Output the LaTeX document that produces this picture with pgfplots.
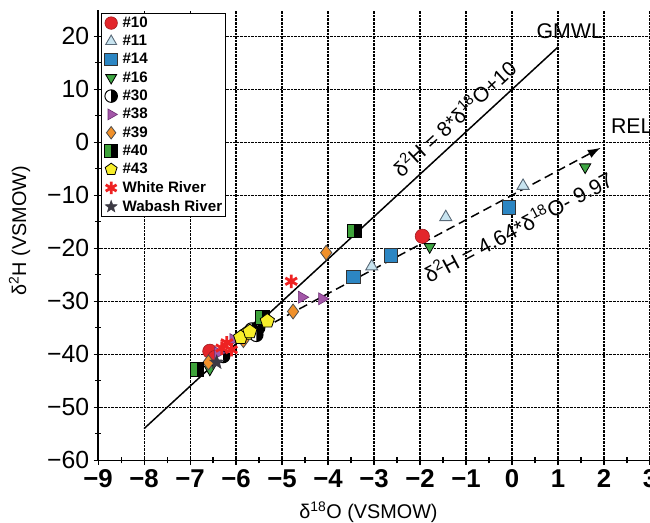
\documentclass[border=0pt]{standalone}
\usepackage{fontspec}
\setmainfont{Liberation Sans}
\usepackage{pgfplots}
\pgfplotsset{compat=1.18}
\usetikzlibrary{arrows.meta,calc,plotmarks}

\definecolor{c10}{HTML}{E3262B}
\definecolor{c11f}{HTML}{C8E4F0}
\definecolor{c11d}{HTML}{5A6A78}
\definecolor{c14}{HTML}{2C86C3}
\definecolor{c16}{HTML}{3DA642}
\definecolor{c38}{HTML}{A357A8}
\definecolor{c38d}{HTML}{6C2E72}
\definecolor{c39}{HTML}{F0902A}
\definecolor{c40}{HTML}{3EA23A}
\definecolor{c43}{HTML}{F7EE2A}
\definecolor{riv}{HTML}{EE2222}
\definecolor{wab}{HTML}{3C3A44}

% half white / half black circle (#30)
\pgfdeclareplotmark{halfcirc}{%
  \begin{pgfscope}
  \pgfpathcircle{\pgfpointorigin}{\pgfplotmarksize}
  \pgfsetfillcolor{white}\pgfusepathqfillstroke
  \pgfpathmoveto{\pgfqpoint{0pt}{\pgfplotmarksize}}
  \pgfpatharc{90}{-90}{\pgfplotmarksize}
  \pgfpathclose
  \pgfsetfillcolor{black}\pgfusepathqfill
  \end{pgfscope}}
% half green / half black square (#40)
\pgfdeclareplotmark{halfsq}{%
  \begin{pgfscope}
  \pgfpathrectangle{\pgfqpoint{-\pgfplotmarksize}{-\pgfplotmarksize}}{\pgfqpoint{\pgfplotmarksize}{2\pgfplotmarksize}}
  \pgfsetfillcolor{c40}\pgfusepathqfill
  \pgfpathrectangle{\pgfqpoint{0pt}{-\pgfplotmarksize}}{\pgfqpoint{\pgfplotmarksize}{2\pgfplotmarksize}}
  \pgfsetfillcolor{black}\pgfusepathqfill
  \pgfpathrectangle{\pgfqpoint{-\pgfplotmarksize}{-\pgfplotmarksize}}{\pgfqpoint{2\pgfplotmarksize}{2\pgfplotmarksize}}
  \pgfusepathqstroke
  \end{pgfscope}}
% filled five-pointed star (Wabash River)
\pgfdeclareplotmark{fstar}{%
  \pgfpathmoveto{\pgfqpointpolar{90}{\pgfplotmarksize}}
  \pgfpathlineto{\pgfqpointpolar{126}{0.42\pgfplotmarksize}}
  \pgfpathlineto{\pgfqpointpolar{162}{\pgfplotmarksize}}
  \pgfpathlineto{\pgfqpointpolar{198}{0.42\pgfplotmarksize}}
  \pgfpathlineto{\pgfqpointpolar{234}{\pgfplotmarksize}}
  \pgfpathlineto{\pgfqpointpolar{270}{0.42\pgfplotmarksize}}
  \pgfpathlineto{\pgfqpointpolar{306}{\pgfplotmarksize}}
  \pgfpathlineto{\pgfqpointpolar{342}{0.42\pgfplotmarksize}}
  \pgfpathlineto{\pgfqpointpolar{18}{\pgfplotmarksize}}
  \pgfpathlineto{\pgfqpointpolar{54}{0.42\pgfplotmarksize}}
  \pgfpathclose
  \pgfusepathqfillstroke}

\begin{document}
\begin{tikzpicture}
\begin{axis}[name=ax, scale only axis, width=555bp, height=453bp,
  xmin=-9, xmax=3, ymin=-60, ymax=25, clip=false,
  axis x line*=bottom, axis y line*=left,
  axis line style={line width=1.4bp},
  xtick={-9,...,3}, ytick={-60,-50,...,20},
  xticklabels={−9,−8,−7,−6,−5,−4,−3,−2,−1,0,1,2,3},
  yticklabels={−60,−50,−40,−30,−20,−10,0,10,20},
  minor x tick num=1, minor y tick num=1,
  tick align=center, major tick length=9bp, minor tick length=6bp,
  tick style={black, line width=1.1bp},
  grid=major, grid style={densely dotted, black, line width=1.1bp},
  x tick label style={font=\fontsize{26}{26}\selectfont\bfseries, yshift=-1bp},
  y tick label style={font=\fontsize{25}{25}\selectfont, xshift=-1bp},
  xlabel={δ\textsuperscript{18}O (VSMOW)}, ylabel={δ\textsuperscript{2}H (VSMOW)},
  label style={font=\fontsize{20}{22}\selectfont},
  xlabel style={at={(axis description cs:0.49,-0.115)}, anchor=center},
  ylabel style={at={(axis description cs:-0.142,0.51)}, anchor=center},
  legend style={at={(axis description cs:0.005,0.993)}, anchor=north west,
    draw=black, line width=0.9bp, fill=white, inner sep=2.5bp, row sep=4.3bp,
    font=\fontsize{15.3}{15.3}\selectfont\bfseries,
    nodes={inner sep=1bp}},
  legend cell align=left,
  legend image code/.code={\draw[#1, mark size=6.3bp] plot coordinates {(6bp,0bp)};
    \path (-1bp,0bp) (16bp,0bp);},
  ]
% GMWL
\addplot[forget plot, black, line width=1.5bp] coordinates {(-8,-54) (1,18)};
% REL (dashed with arrow)
\addplot[forget plot, black, line width=1.5bp, dash pattern=on 9bp off 5bp, -{Latex[length=13bp,width=9bp]}]
  coordinates {(-5.16,-33.9) (1.93,-1.0)};

\addplot[only marks, mark=*, mark size=7.2bp, mark options={fill=c10, draw=c10!70!black, line width=0.6bp}]
  coordinates {(-1.95,-17.7) (-6.57,-39.4) (-6.46,-40.6)};
\addlegendentry{\#10}
\addplot[only marks, mark=triangle*, mark size=7bp, mark options={fill=c11f, draw=c11d, line width=0.9bp}]
  coordinates {(-3.05,-23.4) (-1.44,-14.1) (0.24,-8.2)};
\addlegendentry{\#11}
\addplot[only marks, mark=square*, mark size=6.8bp, mark options={fill=c14, draw=black!80, line width=0.8bp}]
  coordinates {(-3.45,-25.4) (-2.63,-21.3) (-0.07,-12.3)};
\addlegendentry{\#14}
\addplot[only marks, mark=triangle*, mark size=6.5bp, mark options={rotate=180, fill=c16, draw=black, line width=0.8bp}]
  coordinates {(-1.79,-19.7) (1.59,-4.65) (-6.57,-42.8)};
\addlegendentry{\#16}
\addplot[only marks, mark=halfcirc, mark size=6.8bp, mark options={draw=black, line width=1bp}]
  coordinates {(-5.52,-35.0) (-5.66,-35.3) (-5.56,-36.3) (-6.28,-40.3)};
\addlegendentry{\#30}
\addplot[only marks, mark=triangle*, mark size=7bp, mark options={rotate=-90, fill=c38, draw=c38d, line width=0.6bp}]
  coordinates {(-4.57,-29.2) (-4.13,-29.5) (-6.06,-37.2) (-6.39,-39.7)};
\addlegendentry{\#38}
\addplot[only marks, mark=diamond*, mark size=7.5bp, mark options={fill=c39, draw=black!70, line width=0.8bp}]
  coordinates {(-4.04,-20.8) (-4.76,-31.9) (-6.6,-41.5) (-5.84,-37.3)};
\addlegendentry{\#39}
\addplot[only marks, mark=halfsq, mark size=6.8bp, mark options={draw=black, line width=1bp}]
  coordinates {(-3.43,-16.7) (-5.43,-33.0) (-6.85,-42.8)};
\addlegendentry{\#40}
\addplot[only marks, mark=pentagon*, mark size=7.5bp, mark options={fill=c43, draw=black, line width=0.8bp}]
  coordinates {(-5.32,-33.7) (-5.77,-36.0) (-5.9,-36.8) (-5.7,-35.7)};
\addlegendentry{\#43}
\addplot[only marks, mark=asterisk, mark size=6.8bp, mark options={draw=riv, line width=2.8bp}]
  coordinates {(-4.80,-26.2) (-6.2,-37.8) (-6.1,-39.1) (-6.31,-38.8)};
\addlegendentry{White River}
\addplot[only marks, mark=fstar, mark size=7.5bp, mark options={fill=wab, draw=wab, line width=0.5bp}]
  coordinates {(-6.42,-41.5)};
\addlegendentry{Wabash River\hspace{12bp}}

\node[anchor=base west, rotate=42.7, inner sep=0pt, font=\fontsize{21}{22}\selectfont, shift={(-9bp,9.5bp)}]
  at (axis cs:-2.12,-6.96) {δ\textsuperscript{2}H = 8*δ\textsuperscript{18}O+10};
\node[anchor=base west, rotate=28.1, inner sep=0pt, font=\fontsize{21.5}{22}\selectfont, shift={(2.5bp,-39.5bp)}]
  at (axis cs:-2.25,-20.4) {δ\textsuperscript{2}H = 4.64*δ\textsuperscript{18}O- 9.97};
\node[anchor=base west, inner sep=0pt, font=\fontsize{21.5}{22}\selectfont] at (axis cs:0.53,19.6) {GMWL};
\node[anchor=base west, inner sep=0pt, font=\fontsize{21.5}{22}\selectfont] at (axis cs:2.15,1.7) {REL};
\end{axis}
\pgfresetboundingbox
\useasboundingbox ($(ax.south west)+(-98.6bp,-62bp)$) rectangle ($(ax.north east)+(0bp,10bp)$);
\end{tikzpicture}
\end{document}
